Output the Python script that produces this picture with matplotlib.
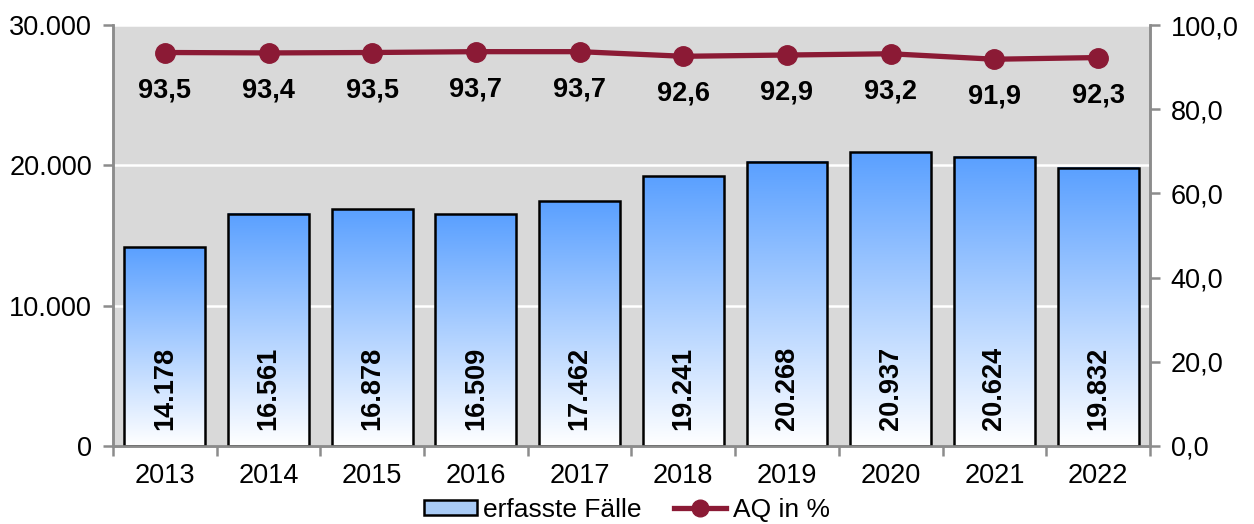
import numpy as np
import matplotlib.pyplot as plt
from matplotlib.colors import LinearSegmentedColormap
from matplotlib.patches import Patch
from matplotlib.lines import Line2D
from matplotlib.ticker import FuncFormatter

years = ['2013', '2014', '2015', '2016', '2017', '2018', '2019', '2020', '2021', '2022']
faelle = [14178, 16561, 16878, 16509, 17462, 19241, 20268, 20937, 20624, 19832]
aq = [93.5, 93.4, 93.5, 93.7, 93.7, 92.6, 92.9, 93.2, 91.9, 92.3]

plt.rcParams['font.family'] = ['Liberation Sans', 'DejaVu Sans']

fig = plt.figure(figsize=(12.54, 5.24), dpi=100)
ax = fig.add_axes([0.0901, 0.149, 0.8269, 0.803])
ax2 = ax.twinx()

ax.set_facecolor('#d9d9d9')
ax.set_zorder(0)
ax2.set_zorder(1)
ax2.patch.set_visible(False)

x = np.arange(len(years))
w = 0.78
cmap = LinearSegmentedColormap.from_list('blau', ['#ffffff', '#5aa0ff'])
grad = np.linspace(0, 1, 256).reshape(-1, 1)

# Balken mit Verlauf
for xi, v in zip(x, faelle):
    ax.imshow(grad, extent=[xi - w / 2, xi + w / 2, 0, v], origin='lower',
              aspect='auto', cmap=cmap, zorder=2)
ax.bar(x, faelle, width=w, facecolor='none', edgecolor='black', linewidth=1.8, zorder=3)
for xi, v in zip(x, faelle):
    ax.text(xi, 4130, f'{v:,}'.replace(',', '.'), rotation=90, ha='center', va='center',
            fontsize=19.5, fontweight='bold', zorder=4)

ax.set_xlim(-0.5, len(years) - 0.5)
ax.set_ylim(0, 30000)
ax.set_yticks([0, 10000, 20000, 30000])
ax.yaxis.set_major_formatter(FuncFormatter(lambda v, p: f'{int(v):,}'.replace(',', '.')))
ax.grid(axis='y', color='white', linewidth=1.8, zorder=1)
ax.set_axisbelow(True)

ax.set_xticks(np.arange(-0.5, len(years)), labels=[])
ax.set_xticks(x, labels=years, minor=True)
ax.tick_params(axis='x', which='minor', length=0, labelsize=19.5, pad=12)
ax.tick_params(axis='x', which='major', length=7, width=1.8, color='#8c8c8c')
ax.tick_params(axis='y', length=7, width=1.8, color='#8c8c8c', labelsize=19.5, pad=8)

# Linie
red = '#8b1a35'
ax2.plot(x, aq, color=red, linewidth=3.8, marker='o', markersize=14)
for xi, v in zip(x, aq):
    ax2.annotate(f'{v:.1f}'.replace('.', ','), (xi, v), xytext=(0, -27), textcoords='offset points',
                 ha='center', va='center', fontsize=19.5, fontweight='bold')
ax2.set_ylim(0, 100)
ax2.set_yticks([0, 20, 40, 60, 80, 100])
ax2.yaxis.set_major_formatter(FuncFormatter(lambda v, p: f'{v:.1f}'.replace('.', ',')))
ax2.tick_params(axis='y', length=7, width=1.8, color='#8c8c8c', labelsize=19.5, pad=8)

for a in (ax, ax2):
    a.spines['top'].set_visible(False)
    for s in ('left', 'right', 'bottom'):
        a.spines[s].set_color('#8c8c8c')
        a.spines[s].set_linewidth(1.8)

handles = [Patch(facecolor='#a9cbf5', edgecolor='black', linewidth=1.8),
           Line2D([], [], color=red, linewidth=3.8, marker='o', markersize=12)]
fig.legend(handles, ['erfasste Fälle', 'AQ in %'], loc='center', bbox_to_anchor=(0.5, 0.027),
           ncol=2, frameon=False, fontsize=19, handlelength=2.0, handleheight=0.5,
           handletextpad=0.25, columnspacing=1.2, borderpad=0)

fig.savefig('out.png', dpi=100)
